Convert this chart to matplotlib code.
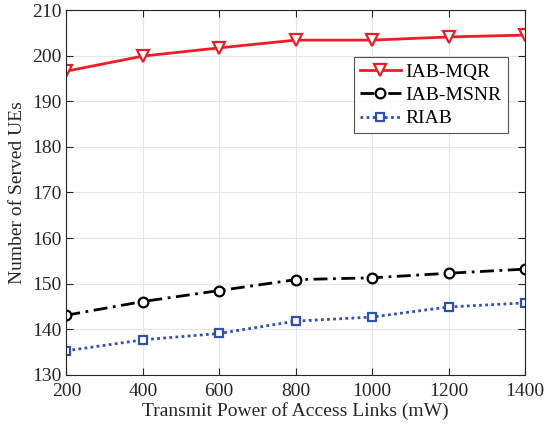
import matplotlib
matplotlib.use('Agg')
import matplotlib.pyplot as plt
import numpy as np

power = [200, 400, 600, 800, 1000, 1200, 1400]
iab_mqr = [196.6, 199.9, 201.7, 203.4, 203.4, 204.1, 204.5]
iab_msnr = [143.1, 146.1, 148.5, 150.9, 151.3, 152.3, 153.2]
riab = [135.3, 137.7, 139.1, 141.8, 142.7, 144.9, 145.8]

plt.rcParams['font.family'] = ['Liberation Serif', 'DejaVu Serif']

fig = plt.figure(figsize=(5.44, 4.36), dpi=100)
ax = fig.add_axes([0.122, 0.140, 0.843, 0.837])

ax.plot(power, iab_mqr, '-', color='#ee1c25', lw=2, marker='v', ms=8,
        mfc='white', mec='#ee1c25', mew=1.6, label='IAB-MQR')
ax.plot(power, iab_msnr, ls=(0, (5, 2, 1, 2)), color='black', lw=2,
        marker='o', ms=7, mfc='white', mec='black', mew=1.6,
        label='IAB-MSNR')
ax.plot(power, riab, ls=(0, (1, 1.2)), color='#3050b0', lw=2, marker='s',
        ms=6, mfc='white', mec='#3050b0', mew=1.6, label='RIAB')

ax.set_xlim(200, 1400)
ax.set_ylim(130, 210)
ax.set_xticks(np.arange(200, 1401, 200))
ax.set_yticks(np.arange(130, 211, 10))
ax.grid(True, color='#e6e6e6', lw=0.8)
ax.set_axisbelow(True)
ax.tick_params(direction='in', top=True, right=True, labelsize=14,
               colors='#262626', length=5)
ax.tick_params(axis='x', pad=6)
for s in ax.spines.values():
    s.set_color('#262626')
    s.set_linewidth(0.8)

ax.set_xlabel('Transmit Power of Access Links (mW)', fontsize=14,
              color='#262626', labelpad=1)
ax.set_ylabel('Number of Served UEs', fontsize=14, color='#262626',
              labelpad=4)

leg = ax.legend(loc='upper right', bbox_to_anchor=(0.962, 0.871),
                fontsize=14, fancybox=False, edgecolor='#262626',
                handlelength=2.1, handletextpad=0.25, borderpad=0.3,
                labelspacing=0.3, borderaxespad=0)
leg.get_frame().set_linewidth(0.8)

plt.savefig('out.png', dpi=100)
